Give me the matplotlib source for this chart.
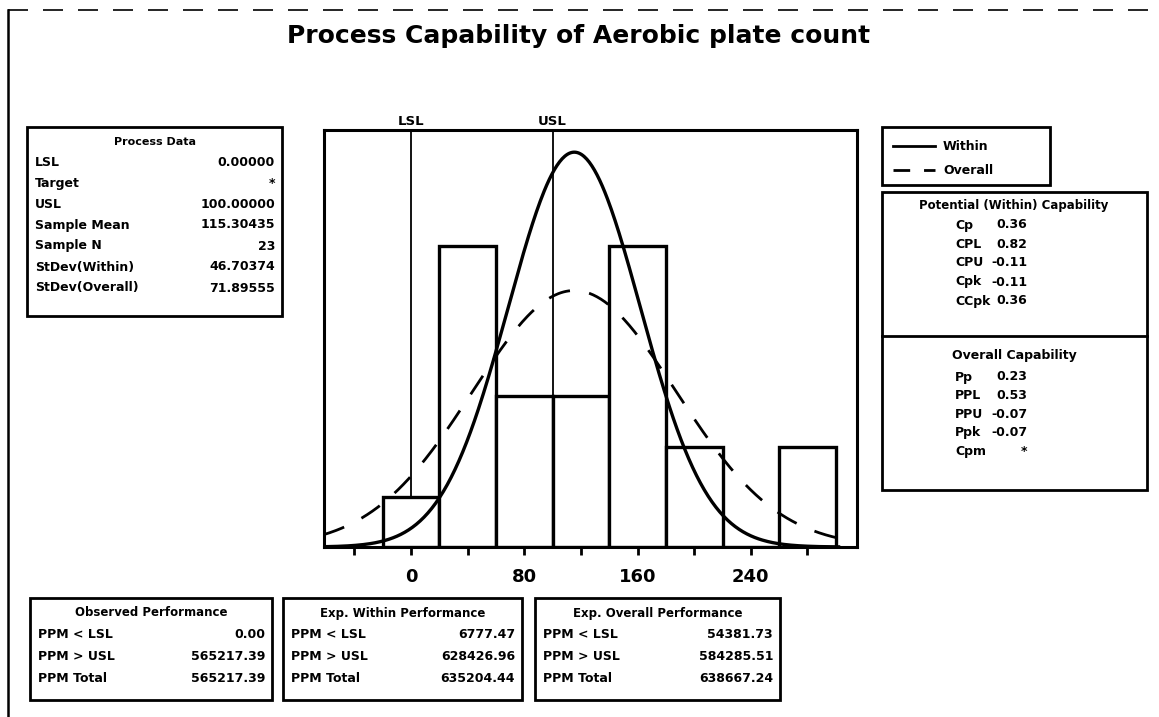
import numpy as np
import matplotlib
matplotlib.use("Agg")
import matplotlib.pyplot as plt
from matplotlib.patches import Rectangle

# --- Datos ----------------------------------------------------------------
bin_edges = [-20, 20, 60, 100, 140, 180, 220, 260, 300]
counts = [1, 6, 3, 3, 6, 2, 0, 2]
lsl = 0.0
usl = 100.0
mean = 115.30435
n_obs = 23
sd_within = 46.70374
sd_overall = 71.89555
major_ticks = [0, 80, 160, 240]
minor_ticks = [-40, 40, 120, 200, 280]

process_labels = ["LSL", "Target", "USL", "Sample Mean", "Sample N", "StDev(Within)", "StDev(Overall)"]
process_values = ["0.00000", "*", "100.00000", "115.30435", "23", "46.70374", "71.89555"]

within_labels = ["Cp", "CPL", "CPU", "Cpk", "CCpk"]
within_values = ["0.36", "0.82", "-0.11", "-0.11", "0.36"]
overall_labels = ["Pp", "PPL", "PPU", "Ppk", "Cpm"]
overall_values = ["0.23", "0.53", "-0.07", "-0.07", "*"]

ppm_labels = ["PPM < LSL", "PPM > USL", "PPM Total"]
perf_titles = ["Observed Performance", "Exp. Within Performance", "Exp. Overall Performance"]
perf_values = [["0.00", "565217.39", "565217.39"],
               ["6777.47", "628426.96", "635204.44"],
               ["54381.73", "584285.51", "638667.24"]]

W, H = 1159, 717
plt.rcParams['font.family'] = 'DejaVu Sans'
fig = plt.figure(figsize=(W / 100, H / 100), dpi=100)

# --- Histograma -----------------------------------------------------------
ax = fig.add_axes([324 / W, (H - 547) / H, (857 - 324) / W, (547 - 130) / H])
centers = [(a + b) / 2 for a, b in zip(bin_edges[:-1], bin_edges[1:])]
ax.bar(centers, counts, width=40, facecolor='white', edgecolor='black',
       linewidth=2.4, zorder=2)

ax.axvline(lsl, color='black', lw=1.3, zorder=1)
ax.axvline(usl, color='black', lw=1.3, zorder=1)
ax.text(lsl, 1.005, "LSL", transform=ax.get_xaxis_transform(), ha='center',
        va='bottom', fontsize=9.5, fontweight='bold')
ax.text(usl, 1.005, "USL", transform=ax.get_xaxis_transform(), ha='center',
        va='bottom', fontsize=9.5, fontweight='bold')

def normal_curve(x, mu, sd):
    return n_obs * 40 / (sd * np.sqrt(2 * np.pi)) * np.exp(-0.5 * ((x - mu) / sd) ** 2)

xs = np.linspace(-62, 302, 400)
ax.plot(xs, normal_curve(xs, mean, sd_within), color='black', lw=2.4, zorder=3)
ax.plot(xs, normal_curve(xs, mean, sd_overall), color='black', lw=2.0,
        dashes=(8, 7), zorder=3)

ax.set_xlim(-61.5, 315)
ax.set_ylim(0, 8.3)
ax.set_yticks([])
ax.set_xticks(major_ticks)
ax.set_xticks(minor_ticks, minor=True)
ax.tick_params(axis='x', which='both', direction='out', length=6, width=2, pad=9)
for lab in ax.get_xticklabels():
    lab.set_fontsize(13)
    lab.set_fontweight('bold')
for s in ax.spines.values():
    s.set_linewidth(2.2)

# --- Capa de anotaciones en pixeles ---------------------------------------
ov = fig.add_axes([0, 0, 1, 1], zorder=5)
ov.set_xlim(0, W)
ov.set_ylim(H, 0)
ov.axis('off')
ov.patch.set_alpha(0)

def box(x0, y0, x1, y1):
    ov.add_patch(Rectangle((x0, y0), x1 - x0, y1 - y0, fill=False,
                           edgecolor='black', lw=2.0))

fs = 9
ov.text(579, 36, "Process Capability of Aerobic plate count", ha='center',
        va='center', fontsize=18, fontweight='bold')

# marco
ov.plot([8, 8], [10, 717], color='black', lw=1.8)
ov.plot([8, 1159], [10, 10], color='black', lw=1.2, dashes=(12, 9))

# Process Data
box(27, 127, 282, 316)
ov.text(155, 142, "Process Data", ha='center', va='center', fontsize=fs - 1, fontweight='bold')
for i, (lab, val) in enumerate(zip(process_labels, process_values)):
    y = 162 + i * 21
    ov.text(35, y, lab, ha='left', va='center', fontsize=fs, fontweight='bold')
    ov.text(275, y, val, ha='right', va='center', fontsize=fs, fontweight='bold')

# Leyenda
box(882, 127, 1050, 185)
ov.plot([893, 935], [146, 146], color='black', lw=2)
ov.plot([893, 935], [170, 170], color='black', lw=2, dashes=(6, 5))
ov.text(943, 146, "Within", ha='left', va='center', fontsize=fs, fontweight='bold')
ov.text(943, 170, "Overall", ha='left', va='center', fontsize=fs, fontweight='bold')

# Capacidad
box(882, 192, 1147, 490)
ov.plot([882, 1147], [336, 336], color='black', lw=2)
ov.text(1014, 206, "Potential (Within) Capability", ha='center', va='center',
        fontsize=fs - 0.5, fontweight='bold')
for i, (lab, val) in enumerate(zip(within_labels, within_values)):
    y = 225 + i * 19
    ov.text(955, y, lab, ha='left', va='center', fontsize=fs, fontweight='bold')
    ov.text(1027, y, val, ha='right', va='center', fontsize=fs, fontweight='bold')
ov.text(1014, 355, "Overall Capability", ha='center', va='center',
        fontsize=fs, fontweight='bold')
for i, (lab, val) in enumerate(zip(overall_labels, overall_values)):
    y = 377 + i * 18.5
    ov.text(955, y, lab, ha='left', va='center', fontsize=fs, fontweight='bold')
    ov.text(1027, y, val, ha='right', va='center', fontsize=fs, fontweight='bold')

# Desempeño
perf_x = [(30, 272), (283, 522), (535, 780)]
for (x0, x1), title, vals in zip(perf_x, perf_titles, perf_values):
    box(x0, 598, x1, 700)
    ov.text((x0 + x1) / 2, 613, title, ha='center', va='center', fontsize=fs - 0.5, fontweight='bold')
    for j, (lab, val) in enumerate(zip(ppm_labels, vals)):
        y = 635 + j * 22
        ov.text(x0 + 8, y, lab, ha='left', va='center', fontsize=fs, fontweight='bold')
        ov.text(x1 - 7, y, val, ha='right', va='center', fontsize=fs, fontweight='bold')

fig.savefig("out.png", dpi=100, facecolor='white')
